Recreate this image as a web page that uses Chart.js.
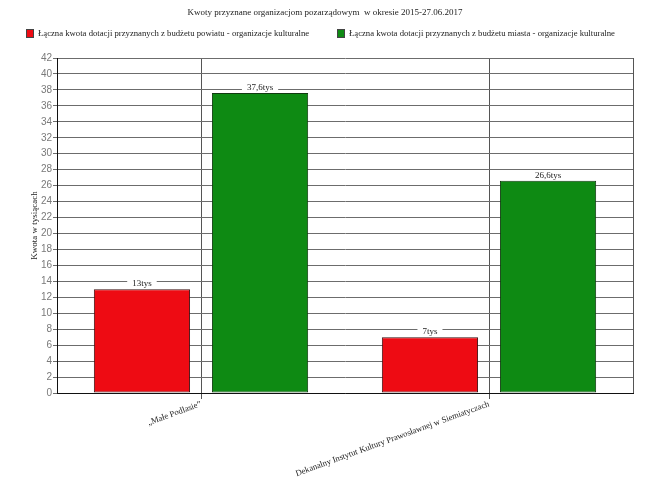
<!DOCTYPE html>
<html>
<head>
<meta charset="utf-8">
<script src="https://cdn.jsdelivr.net/npm/chart.js@4"></script>
<style>
  html, body { margin: 0; padding: 0; background: #fff; }
  #wrap { width: 650px; height: 478px; }
</style>
</head>
<body>
<div id="wrap"><canvas id="chart" width="650" height="478"></canvas></div>
<script>
// chart data
const chartTitle = 'Kwoty przyznane organizacjom pozarządowym  w okresie 2015-27.06.2017';
const categories = ['„Małe Podlasie”', 'Dekanalny Instytut Kultury Prawosławnej w Siemiatyczach'];
const seriesNames = [
    'Łączna kwota dotacji przyznanych z budżetu powiatu - organizacje kulturalne',
    'Łączna kwota dotacji przyznanych z budżetu miasta - organizacje kulturalne'
];
const powiatValues = [13, 7];
const miastoValues = [37.6, 26.6];
const yTitle = 'Kwota w tysiącach';

const SERIF = '"Liberation Serif", "Times New Roman", serif';
const SANS = '"Liberation Sans", Arial, sans-serif';

// title + legend drawn at the top, value boxes over bars, plot frame
const decorPlugin = {
    id: 'decor',
    afterDraw(chart) {
        const ctx = chart.ctx;
        const area = chart.chartArea;
        ctx.save();

        // frame (right side)
        ctx.strokeStyle = '#555';
        ctx.lineWidth = 1;
        ctx.beginPath();
        ctx.moveTo(Math.round(area.right) + 0.5, area.top);
        ctx.lineTo(Math.round(area.right) + 0.5, area.bottom);
        ctx.stroke();

        // title
        ctx.fillStyle = '#222';
        ctx.font = '9px ' + SERIF;
        ctx.textAlign = 'center';
        ctx.textBaseline = 'middle';
        ctx.fillText(chartTitle, 325, 12.5);

        // legend
        ctx.font = '8.7px ' + SERIF;
        ctx.textAlign = 'left';
        const legendX = [26, 337];
        chart.data.datasets.forEach((ds, i) => {
            ctx.fillStyle = ds.backgroundColor;
            ctx.fillRect(legendX[i], 29, 8, 9);
            ctx.strokeStyle = '#444';
            ctx.strokeRect(legendX[i] + 0.5, 29.5, 7, 8);
            ctx.fillStyle = '#222';
            ctx.fillText(ds.label, legendX[i] + 12, 34);
        });

        // value labels
        ctx.font = '9px ' + SERIF;
        ctx.textAlign = 'center';
        ctx.textBaseline = 'alphabetic';
        chart.data.datasets.forEach((ds, i) => {
            const meta = chart.getDatasetMeta(i);
            meta.data.forEach((bar, j) => {
                const txt = String(ds.data[j]).replace('.', ',') + 'tys';
                const w = ctx.measureText(txt).width;
                ctx.fillStyle = '#fff';
                ctx.fillRect(bar.x - w / 2 - 5, bar.y - 10, w + 10, 9);
                ctx.fillStyle = '#222';
                ctx.fillText(txt, bar.x, bar.y - 3);
            });
        });
        ctx.restore();
    }
};

const ctx = document.getElementById('chart').getContext('2d');
new Chart(ctx, {
    type: 'bar',
    data: {
        labels: categories,
        datasets: [{
            label: seriesNames[0],
            data: powiatValues,
            backgroundColor: '#ee0b13',
            borderColor: '#3a1010',
            borderWidth: 1,
            borderSkipped: false
        }, {
            label: seriesNames[1],
            data: miastoValues,
            backgroundColor: '#0e8a13',
            borderColor: '#103a10',
            borderWidth: 1,
            borderSkipped: false
        }]
    },
    options: {
        responsive: false,
        animation: false,
        categoryPercentage: 0.82,
        barPercentage: 0.815,
        layout: { padding: { top: 58, right: 17, left: 0, bottom: 0 } },
        plugins: {
            legend: { display: false },
            title: { display: false },
            tooltip: { enabled: false }
        },
        scales: {
            x: {
                grid: { offset: false, color: '#555', tickLength: 6, drawOnChartArea: true },
                border: { color: '#111' },
                ticks: {
                    color: '#222',
                    font: { family: SERIF, size: 8.6 },
                    minRotation: 20,
                    maxRotation: 20,
                    autoSkip: false,
                    padding: 0
                },
                afterFit(scale) { scale.height = 85; }
            },
            y: {
                min: 0,
                max: 42,
                ticks: {
                    stepSize: 2,
                    color: '#7a7a7a',
                    font: { family: SANS, size: 10 },
                    padding: 1
                },
                grid: { color: '#6c6c6c', tickLength: 4 },
                border: { color: '#111' },
                title: {
                    display: true,
                    text: yTitle,
                    color: '#222',
                    font: { family: SERIF, size: 9 },
                    padding: { top: 29, bottom: 0 }
                },
                afterFit(scale) { scale.width = 57; }
            }
        }
    },
    plugins: [decorPlugin]
});
</script>
</body>
</html>
